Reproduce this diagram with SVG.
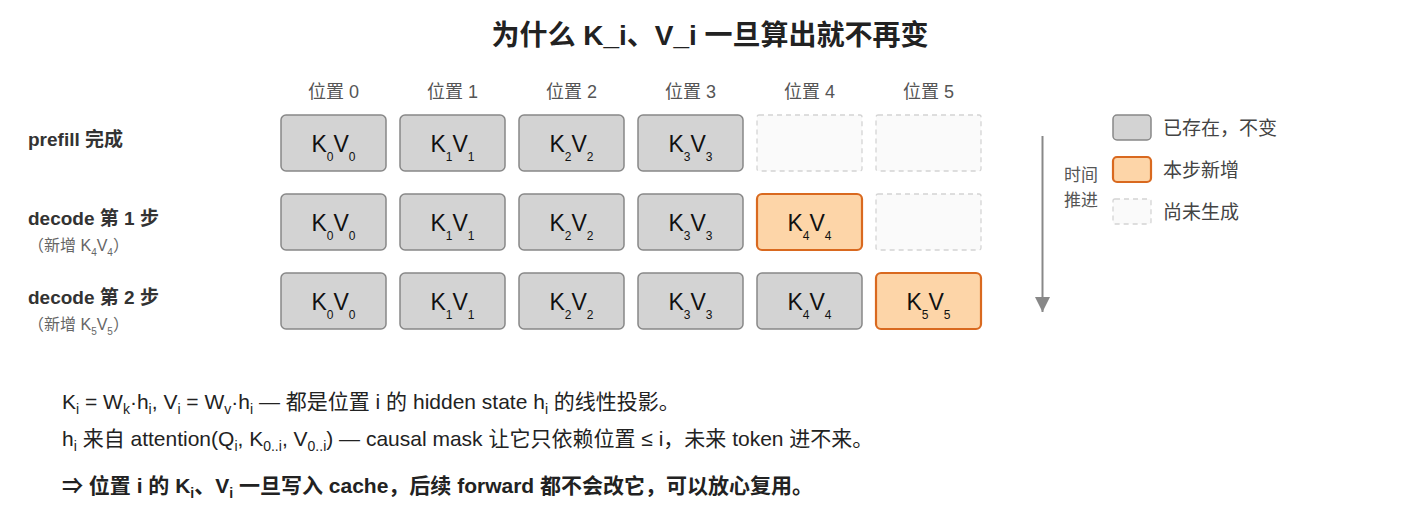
<svg xmlns="http://www.w3.org/2000/svg" width="1410" height="524" viewBox="0 0 1410 524">
<defs>
<style>
text{font-family:"Liberation Sans","Noto Sans CJK SC",sans-serif;}
.title{font-size:28px;font-weight:bold;fill:#222;text-anchor:middle;}
.pos{font-size:18px;fill:#555;text-anchor:middle;}
.row{font-size:19px;font-weight:bold;fill:#333;}
.rowsub{font-size:16px;fill:#666;}
.rowsub .sb{font-size:10px;}
.done{fill:#d3d3d3;stroke:#888;stroke-width:1.5;}
.new{fill:#fdd5a8;stroke:#d9691f;stroke-width:2.2;}
.empty{fill:#fafafa;stroke:#d4d4d4;stroke-width:1.3;stroke-dasharray:5 4;}
.kv{font-size:23px;fill:#111;text-anchor:middle;}
.kv .sb{font-size:12px;}
.leg{font-size:19px;fill:#444;}
.time{font-size:17px;fill:#555;text-anchor:middle;}
.note{font-size:21px;fill:#222;}
.note .sb{font-size:14px;}
.bold{font-weight:bold;}
</style>
<marker id="ah" viewBox="0 0 10 10" refX="10" refY="5" markerWidth="15" markerHeight="15" markerUnits="userSpaceOnUse" orient="auto">
<path d="M0,0 L10,5 L0,10 Z" fill="#888"/>
</marker>
</defs>
<rect width="1410" height="524" fill="#fff"/>

<g id="title"><text class="title" x="710" y="45">为什么 K_i、V_i 一旦算出就不再变</text></g>

<g id="positions">
<text class="pos" x="333.5" y="98">位置 0</text>
<text class="pos" x="452.5" y="98">位置 1</text>
<text class="pos" x="571.5" y="98">位置 2</text>
<text class="pos" x="690.5" y="98">位置 3</text>
<text class="pos" x="809.5" y="98">位置 4</text>
<text class="pos" x="928.5" y="98">位置 5</text>
</g>

<g id="row-labels">
<text class="row" x="28" y="146">prefill 完成</text>
<text class="row" x="28" y="225">decode 第 1 步</text>
<text class="rowsub" x="28" y="251">（新增 K<tspan class="sb" dy="5">4</tspan><tspan dy="-5">V</tspan><tspan class="sb" dy="5">4</tspan><tspan dy="-5">）</tspan></text>
<text class="row" x="28" y="304">decode 第 2 步</text>
<text class="rowsub" x="28" y="330">（新增 K<tspan class="sb" dy="5">5</tspan><tspan dy="-5">V</tspan><tspan class="sb" dy="5">5</tspan><tspan dy="-5">）</tspan></text>
</g>

<!-- Row 1: prefill -->
<g id="r1-p0"><rect class="done" x="281" y="115" width="105" height="56" rx="5"/><text class="kv" x="333.5" y="151.5">K<tspan class="sb" dy="9">0</tspan><tspan dy="-9">V</tspan><tspan class="sb" dy="9">0</tspan></text></g>
<g id="r1-p1"><rect class="done" x="400" y="115" width="105" height="56" rx="5"/><text class="kv" x="452.5" y="151.5">K<tspan class="sb" dy="9">1</tspan><tspan dy="-9">V</tspan><tspan class="sb" dy="9">1</tspan></text></g>
<g id="r1-p2"><rect class="done" x="519" y="115" width="105" height="56" rx="5"/><text class="kv" x="571.5" y="151.5">K<tspan class="sb" dy="9">2</tspan><tspan dy="-9">V</tspan><tspan class="sb" dy="9">2</tspan></text></g>
<g id="r1-p3"><rect class="done" x="638" y="115" width="105" height="56" rx="5"/><text class="kv" x="690.5" y="151.5">K<tspan class="sb" dy="9">3</tspan><tspan dy="-9">V</tspan><tspan class="sb" dy="9">3</tspan></text></g>
<g id="r1-p4"><rect class="empty" x="757" y="115" width="105" height="56" rx="2"/></g>
<g id="r1-p5"><rect class="empty" x="876" y="115" width="105" height="56" rx="2"/></g>

<!-- Row 2: decode 1 -->
<g id="r2-p0"><rect class="done" x="281" y="194" width="105" height="56" rx="5"/><text class="kv" x="333.5" y="230.5">K<tspan class="sb" dy="9">0</tspan><tspan dy="-9">V</tspan><tspan class="sb" dy="9">0</tspan></text></g>
<g id="r2-p1"><rect class="done" x="400" y="194" width="105" height="56" rx="5"/><text class="kv" x="452.5" y="230.5">K<tspan class="sb" dy="9">1</tspan><tspan dy="-9">V</tspan><tspan class="sb" dy="9">1</tspan></text></g>
<g id="r2-p2"><rect class="done" x="519" y="194" width="105" height="56" rx="5"/><text class="kv" x="571.5" y="230.5">K<tspan class="sb" dy="9">2</tspan><tspan dy="-9">V</tspan><tspan class="sb" dy="9">2</tspan></text></g>
<g id="r2-p3"><rect class="done" x="638" y="194" width="105" height="56" rx="5"/><text class="kv" x="690.5" y="230.5">K<tspan class="sb" dy="9">3</tspan><tspan dy="-9">V</tspan><tspan class="sb" dy="9">3</tspan></text></g>
<g id="r2-p4"><rect class="new" x="757" y="194" width="105" height="56" rx="5"/><text class="kv" x="809.5" y="230.5">K<tspan class="sb" dy="9">4</tspan><tspan dy="-9">V</tspan><tspan class="sb" dy="9">4</tspan></text></g>
<g id="r2-p5"><rect class="empty" x="876" y="194" width="105" height="56" rx="2"/></g>

<!-- Row 3: decode 2 -->
<g id="r3-p0"><rect class="done" x="281" y="273" width="105" height="56" rx="5"/><text class="kv" x="333.5" y="309.5">K<tspan class="sb" dy="9">0</tspan><tspan dy="-9">V</tspan><tspan class="sb" dy="9">0</tspan></text></g>
<g id="r3-p1"><rect class="done" x="400" y="273" width="105" height="56" rx="5"/><text class="kv" x="452.5" y="309.5">K<tspan class="sb" dy="9">1</tspan><tspan dy="-9">V</tspan><tspan class="sb" dy="9">1</tspan></text></g>
<g id="r3-p2"><rect class="done" x="519" y="273" width="105" height="56" rx="5"/><text class="kv" x="571.5" y="309.5">K<tspan class="sb" dy="9">2</tspan><tspan dy="-9">V</tspan><tspan class="sb" dy="9">2</tspan></text></g>
<g id="r3-p3"><rect class="done" x="638" y="273" width="105" height="56" rx="5"/><text class="kv" x="690.5" y="309.5">K<tspan class="sb" dy="9">3</tspan><tspan dy="-9">V</tspan><tspan class="sb" dy="9">3</tspan></text></g>
<g id="r3-p4"><rect class="done" x="757" y="273" width="105" height="56" rx="5"/><text class="kv" x="809.5" y="309.5">K<tspan class="sb" dy="9">4</tspan><tspan dy="-9">V</tspan><tspan class="sb" dy="9">4</tspan></text></g>
<g id="r3-p5"><rect class="new" x="876" y="273" width="105" height="56" rx="5"/><text class="kv" x="928.5" y="309.5">K<tspan class="sb" dy="9">5</tspan><tspan dy="-9">V</tspan><tspan class="sb" dy="9">5</tspan></text></g>

<g id="connectors">
<line x1="1042.5" y1="136" x2="1042.5" y2="312" stroke="#888" stroke-width="2" marker-end="url(#ah)"/>
</g>
<g id="time-label">
<text class="time" x="1081" y="181">时间</text>
<text class="time" x="1081" y="206">推进</text>
</g>

<g id="legend">
<rect class="done" x="1113" y="115" width="38" height="25" rx="4"/>
<text class="leg" x="1163" y="134.5">已存在，不变</text>
<rect class="new" x="1113" y="157" width="38" height="25" rx="4"/>
<text class="leg" x="1163" y="176.5">本步新增</text>
<rect class="empty" x="1113" y="199" width="38" height="25" rx="2"/>
<text class="leg" x="1163" y="218.5">尚未生成</text>
</g>

<g id="notes">
<text class="note" x="62" y="409">K<tspan class="sb" dy="5">i</tspan><tspan dy="-5"> = W</tspan><tspan class="sb" dy="5">k</tspan><tspan dy="-5">·h</tspan><tspan class="sb" dy="5">i</tspan><tspan dy="-5">, V</tspan><tspan class="sb" dy="5">i</tspan><tspan dy="-5"> = W</tspan><tspan class="sb" dy="5">v</tspan><tspan dy="-5">·h</tspan><tspan class="sb" dy="5">i</tspan><tspan dy="-5"> — 都是位置 i 的 hidden state h</tspan><tspan class="sb" dy="5">i</tspan><tspan dy="-5"> 的线性投影。</tspan></text>
<text class="note" x="62" y="446">h<tspan class="sb" dy="5">i</tspan><tspan dy="-5"> 来自 attention(Q</tspan><tspan class="sb" dy="5">i</tspan><tspan dy="-5">, K</tspan><tspan class="sb" dy="5">0..i</tspan><tspan dy="-5">, V</tspan><tspan class="sb" dy="5">0..i</tspan><tspan dy="-5">) — causal mask 让它只依赖位置 ≤ i，未来 token 进不来。</tspan></text>
<text class="note bold" x="62" y="493">⇒ 位置 i 的 K<tspan class="sb" dy="5">i</tspan><tspan dy="-5">、V</tspan><tspan class="sb" dy="5">i</tspan><tspan dy="-5"> 一旦写入 cache，后续 forward 都不会改它，可以放心复用。</tspan></text>
</g>
</svg>
